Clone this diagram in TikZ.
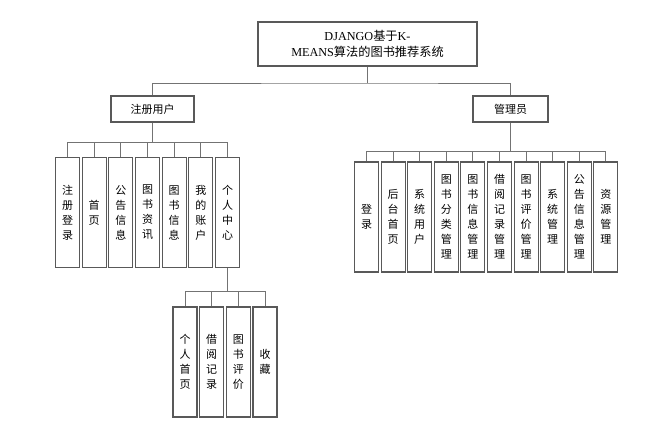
\documentclass[tikz,border=0pt]{standalone}
\usepackage{fontspec}
\setmainfont{Liberation Serif}
\newfontfamily\cjk{Noto Sans CJK SC}

\begin{document}
\begin{tikzpicture}[x=1pt, y=-1pt,
    box/.style={draw=black!65, line width=1.1pt, inner sep=0pt, align=center,
        font=\cjk\fontsize{11}{15}\selectfont},
    leaf/.style={box, minimum width=24pt, minimum height=110pt},
    conn/.style={draw=black!55, line width=1pt}]
    % 画布大小
    \useasboundingbox (0,0) rectangle (669,434);

    % 系统名称
    \node[box, minimum width=219pt, minimum height=44pt, font=\fontsize{12.2}{15.5}\selectfont]
        (root) at (367.5,44) {DJANGO{\cjk 基于}K-\\MEANS{\cjk 算法的图书推荐系统}};

    % 两类角色
    \node[box, minimum width=83pt, minimum height=26pt] (user) at (152.5,109) {注册用户};
    \node[box, minimum width=75pt, minimum height=26pt] (admin) at (510.5,109) {管理员};

    % 各层的汇线点
    \coordinate (topbus) at (367.5,83);
    \coordinate (ubus) at (152.5,142);
    \coordinate (abus) at (510.5,151);
    \coordinate (pbus) at (227.5,291);

    % 注册用户功能
    \node[leaf] (u1) at (67.5,212.5) {注\\册\\登\\录};
    \node[leaf] (u2) at (94.2,212.5) {首\\页};
    \node[leaf] (u3) at (120.8,212.5) {公\\告\\信\\息};
    \node[leaf] (u4) at (147.5,212.5) {图\\书\\资\\讯};
    \node[leaf] (u5) at (174.2,212.5) {图\\书\\信\\息};
    \node[leaf] (u6) at (200.8,212.5) {我\\的\\账\\户};
    \node[leaf] (u7) at (227.5,212.5) {个\\人\\中\\心};

    % 个人中心子功能
    \node[leaf] (p1) at (185,362) {个\\人\\首\\页};
    \node[leaf] (p2) at (211.7,362) {借\\阅\\记\\录};
    \node[leaf] (p3) at (238.3,362) {图\\书\\评\\价};
    \node[leaf] (p4) at (265,362) {收\\藏};

    % 管理员功能
    \node[leaf] (a1) at (366.5,217) {登\\录};
    \node[leaf] (a2) at (393.1,217) {后\\台\\首\\页};
    \node[leaf] (a3) at (419.7,217) {系\\统\\用\\户};
    \node[leaf] (a4) at (446.3,217) {图\\书\\分\\类\\管\\理};
    \node[leaf] (a5) at (472.9,217) {图\\书\\信\\息\\管\\理};
    \node[leaf] (a6) at (499.5,217) {借\\阅\\记\\录\\管\\理};
    \node[leaf] (a7) at (526.1,217) {图\\书\\评\\价\\管\\理};
    \node[leaf] (a8) at (552.7,217) {系\\统\\管\\理};
    \node[leaf] (a9) at (579.3,217) {公\\告\\信\\息\\管\\理};
    \node[leaf] (a10) at (605.9,217) {资\\源\\管\\理};

    % 连线
    \draw[conn] (root) -- (topbus);
    \draw[conn] (user.north) |- (topbus) -| (admin.north);
    \draw[conn] (user) -- (ubus);
    \draw[conn] (u1.north) |- (ubus) (u2.north) |- (ubus) (u3.north) |- (ubus)
        (u4.north) |- (ubus) (u5.north) |- (ubus) (u6.north) |- (ubus) (u7.north) |- (ubus);
    \draw[conn] (u7) -- (pbus);
    \draw[conn] (p1.north) |- (pbus) (p2.north) |- (pbus) (p3.north) |- (pbus) (p4.north) |- (pbus);
    \draw[conn] (admin) -- (abus);
    \draw[conn] (a1.north) |- (abus) (a2.north) |- (abus) (a3.north) |- (abus) (a4.north) |- (abus)
        (a5.north) |- (abus) (a6.north) |- (abus) (a7.north) |- (abus) (a8.north) |- (abus)
        (a9.north) |- (abus) (a10.north) |- (abus);

\end{tikzpicture}
\end{document}
